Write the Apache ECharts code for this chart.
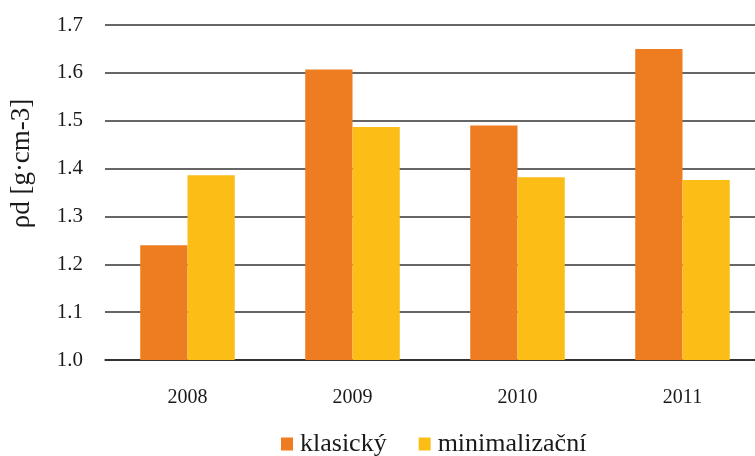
<!DOCTYPE html>
<html>
<head>
<meta charset="utf-8">
<script src="https://cdn.jsdelivr.net/npm/echarts@6/dist/echarts.min.js"></script>
<style>
  html, body { margin: 0; padding: 0; background: #fff; overflow: hidden; }
  #chart { width: 765px; height: 456px; }
</style>
</head>
<body>
<div id="chart"></div>
<script>
const years = ['2008', '2009', '2010', '2011']
const klasicky = [1.24, 1.607, 1.49, 1.65]
const minimalizacni = [1.386, 1.487, 1.382, 1.376]
const yTicks = ['1.0', '1.1', '1.2', '1.3', '1.4', '1.5', '1.6', '1.7']

const font = 'Liberation Serif'
// the reference is cropped on the right, so the plot runs past the page edge
const chart = echarts.init(document.getElementById('chart'))

const option = {
  backgroundColor: '#fff',
  animation: false,
  textStyle: { fontFamily: font },
  legend: {
    top: 426,
    left: 276,
    itemWidth: 12,
    itemHeight: 13,
    itemGap: 32,
    icon: 'rect',
    textStyle: { fontFamily: font, fontSize: 26, color: '#1a1a1a', padding: [0, 0, 0, 2] },
    data: ['klasický', 'minimalizační']
  },
  grid: {
    left: 102,
    right: 0,
    top: 25,
    bottom: 96
  },
  xAxis: {
    type: 'category',
    data: years,
    axisLine: { show: true, lineStyle: { color: '#222', width: 1.5 } },
    axisTick: { show: false },
    axisLabel: { fontFamily: font, fontSize: 20, color: '#1a1a1a', margin: 28 }
  },
  yAxis: {
    type: 'value',
    min: 1.0,
    max: 1.7,
    interval: 0.1,
    name: 'ρd [g·cm-3]',
    nameLocation: 'middle',
    nameGap: 70,
    nameRotate: 90,
    nameTextStyle: { fontFamily: font, fontSize: 27, color: '#1a1a1a', padding: [0, 0, 0, 58] },
    axisLine: { show: false },
    axisTick: { show: false },
    axisLabel: {
      fontFamily: font,
      fontSize: 21,
      color: '#1a1a1a',
      margin: 22,
      formatter: (v) => yTicks[Math.round((v - 1.0) * 10)]
    },
    splitLine: { lineStyle: { color: '#333', width: 1.5 } }
  },
  series: [
    {
      name: 'klasický',
      type: 'bar',
      data: klasicky,
      barGap: '0%',
      barCategoryGap: '42.7%',
      itemStyle: { color: '#EE7D22' }
    },
    {
      name: 'minimalizační',
      type: 'bar',
      data: minimalizacni,
      barGap: '0%',
      barCategoryGap: '42.7%',
      itemStyle: { color: '#FBBD16' }
    }
  ]
}

chart.setOption(option)
</script>
</body>
</html>
